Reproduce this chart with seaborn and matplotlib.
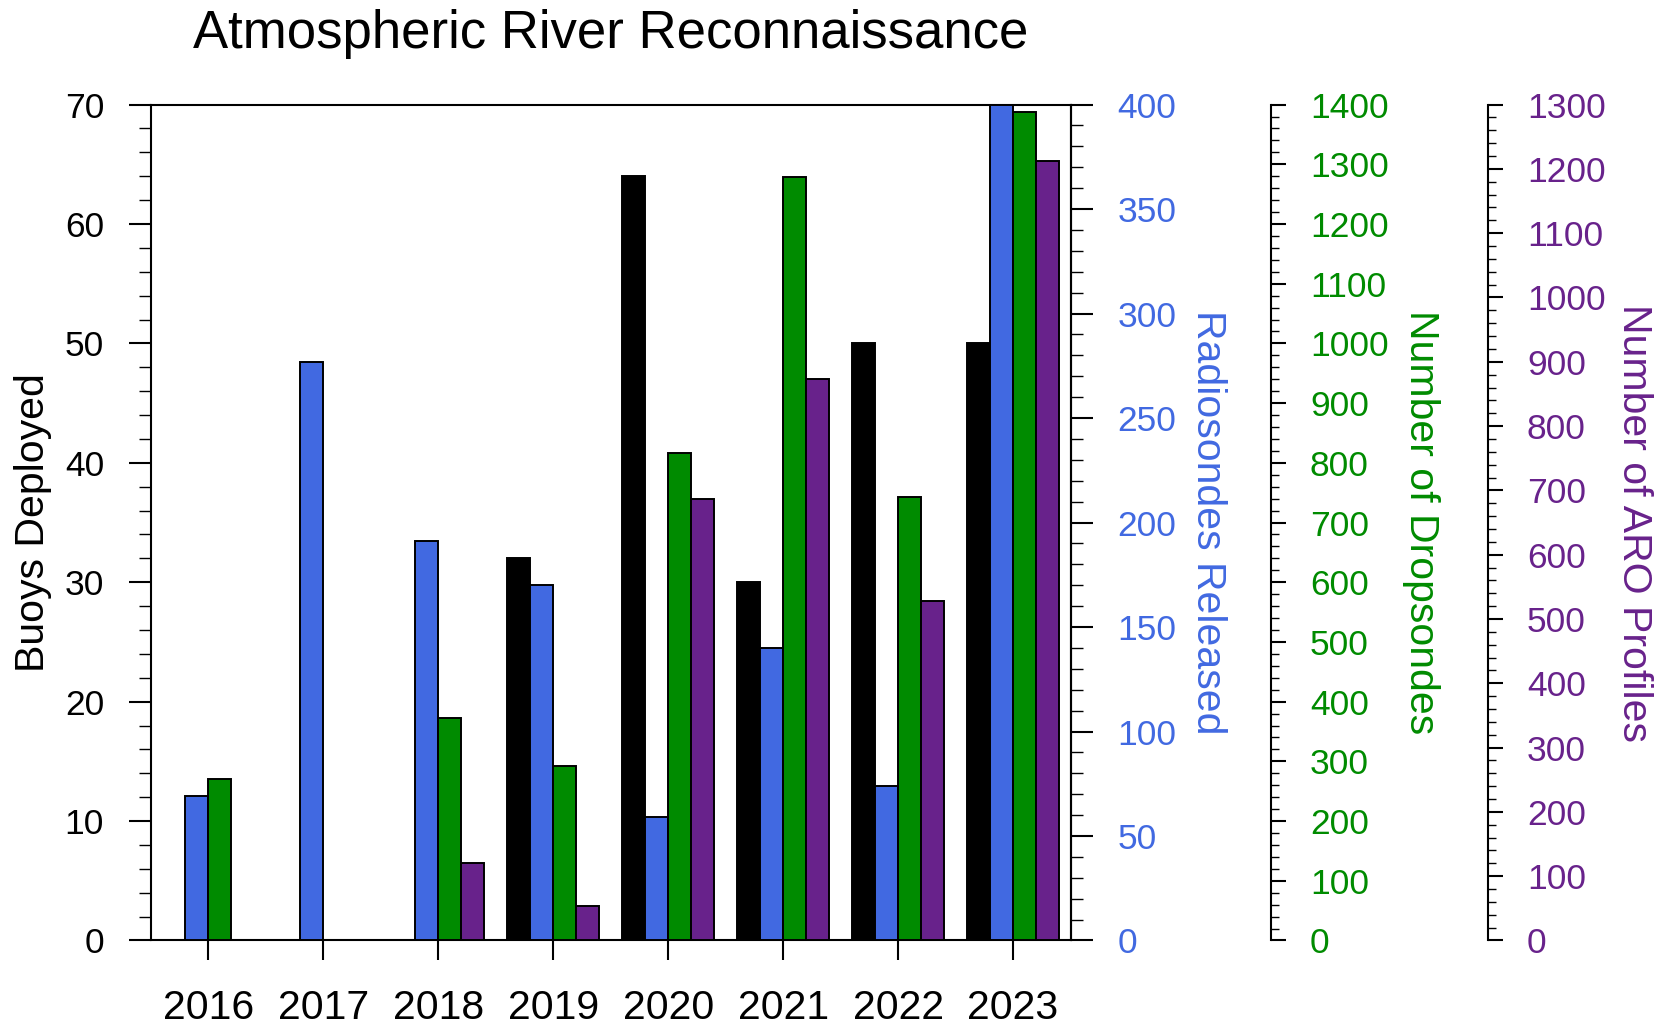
import matplotlib
matplotlib.use("Agg")
import matplotlib.pyplot as plt
from matplotlib.ticker import MultipleLocator
import numpy as np
import pandas as pd
import seaborn as sns

# ---- data -------------------------------------------------------------
years = [2016, 2017, 2018, 2019, 2020, 2021, 2022, 2023]
buoys = [np.nan, np.nan, np.nan, 32, 64, 30, 50, 50]
radiosondes = [69, 277, 191, 170, 59, 140, 74, 400]
dropsondes = [270, np.nan, 372, 292, 817, 1279, 743, 1388]
aro_profiles = [np.nan, np.nan, 120, 53, 687, 873, 528, 1212]

series_names = ["Buoys Deployed", "Radiosondes Released",
                "Number of Dropsondes", "Number of ARO Profiles"]
series_colors = ["#000000", "#4169E1", "#008B00", "#68228B"]
axis_limits = [70, 400, 1400, 1300]
major_steps = [10, 50, 100, 100]
minor_steps = [2, 10, 20, 20]
title = "Atmospheric River Reconnaissance"

frames = []
for name, vals in zip(series_names, [buoys, radiosondes, dropsondes, aro_profiles]):
    frames.append(pd.DataFrame({"year": years, "series": name, "value": vals}))
df = pd.concat(frames, ignore_index=True).dropna()

# ---- figure -----------------------------------------------------------
sns.set_theme(style="ticks")
plt.rcParams["font.family"] = ["Liberation Sans", "DejaVu Sans"]

TICK_FS = 25.5
LABEL_FS = 29.5

fig = plt.figure(figsize=(16.57, 10.28), dpi=100)
ax = fig.add_axes([0.09113, 0.08512, 0.55492, 0.81313])
ax2 = ax.twinx()
ax3 = ax.twinx()
ax4 = ax.twinx()
axes = [ax, ax2, ax3, ax4]

palette = dict(zip(series_names, series_colors))
for a, name in zip(axes, series_names):
    sns.barplot(data=df[df["series"] == name], x="year", y="value",
                hue="series", hue_order=series_names, order=years,
                palette=palette, saturation=1, edgecolor="black",
                linewidth=1.4, width=0.8, dodge=True, legend=False,
                errorbar=None, ax=a)
    a.set_xlabel("")
    a.set_ylabel("")

# y ranges and tick spacing for each scale
for a, top, maj, mnr in zip(axes, axis_limits, major_steps, minor_steps):
    a.set_ylim(0, top)
    a.yaxis.set_major_locator(MultipleLocator(maj))
    a.yaxis.set_minor_locator(MultipleLocator(mnr))
ax.set_xlim(-0.5, len(years) - 0.5)

# frame of the main panel
for s in ax.spines.values():
    s.set_visible(True)
    s.set_color("black")
    s.set_linewidth(1.5)

# the twin scales only show their right spine
for a in (ax2, ax3, ax4):
    for side in ("left", "top", "bottom"):
        a.spines[side].set_visible(False)
    a.spines["right"].set_color("black")
    a.spines["right"].set_linewidth(1.5)
ax3.spines["right"].set_position(("axes", 1.2176))
ax4.spines["right"].set_position(("axes", 1.4536))

# left scale
ax.tick_params(axis="y", which="major", direction="out", length=15.8,
               width=1.5, pad=18.0, labelsize=TICK_FS, color="black",
               labelcolor="black", left=True, right=False)
ax.tick_params(axis="y", which="minor", direction="out", length=8.3,
               width=1.0, color="black", left=True, right=False)
# years along the bottom
ax.tick_params(axis="x", which="major", direction="out", length=14.4,
               width=1.5, pad=20.5, labelsize=LABEL_FS, color="black",
               labelcolor="black", top=False)
ax.tick_params(axis="x", which="minor", bottom=False, top=False)

# right-hand scales
ax2.tick_params(axis="y", which="major", direction="out", length=15.8,
                width=1.5, pad=18.0, labelsize=TICK_FS, color="black",
                labelcolor=series_colors[1])
ax2.tick_params(axis="y", which="minor", direction="out", length=8.3,
                width=1.0, color="black")
for a, c in ((ax3, series_colors[2]), (ax4, series_colors[3])):
    a.tick_params(axis="y", which="major", direction="out", length=10.8,
                  width=1.5, pad=17.5, labelsize=TICK_FS, color="black",
                  labelcolor=c)
    a.tick_params(axis="y", which="minor", direction="out", length=5.8,
                  width=1.0, color="black")

# axis titles
label_x = [-0.128, 1.150, 1.381, 1.613]
label_rot = [90, -90, -90, -90]
for name, c, x, r in zip(series_names, series_colors, label_x, label_rot):
    ax.text(x, 0.5, name, transform=ax.transAxes, rotation=r,
            ha="center", va="center", fontsize=LABEL_FS, color=c)

fig.text(0.3686, 0.9537, title, ha="center", va="baseline",
         fontsize=38, color="black")

fig.savefig("out.png", dpi=100)
